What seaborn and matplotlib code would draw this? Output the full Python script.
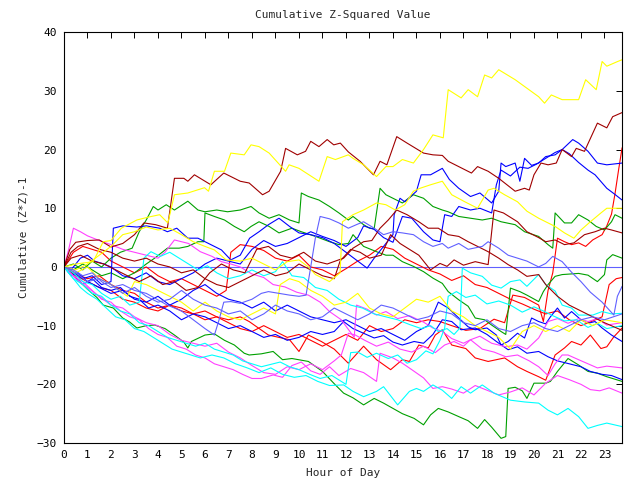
import pandas as pd
import matplotlib
matplotlib.use("Agg")
import matplotlib.pyplot as plt
import seaborn as sns

# cumulative (Z*Z)-1 walks, (hour, value)
yellow_1 = [(0, 0), (0.5, 0.5), (1.24, 0.9), (1.67, 4.3), (2.0, 4.5), (2.44, 6.6), (3.1, 8), (3.6, 8.5),
            (4.07, 8.9), (4.42, 7.5), (4.7, 12.3), (5.27, 12.6), (5.98, 13.5), (6.15, 12.9), (6.4, 16.3),
            (6.83, 16.3), (7.1, 19.4), (7.67, 19.1), (7.96, 20.8), (8.3, 20.5), (8.73, 19.4), (9.43, 16.3),
            (9.58, 17.4), (10.0, 16.8), (10.85, 14.6), (11.2, 18.8), (11.55, 18.3), (12.1, 19.1), (12.3, 18.5),
            (12.75, 17.4), (13.3, 15.4), (13.7, 17.1), (14.0, 17.1), (14.4, 18.3), (14.87, 17.7), (15.3, 20),
            (15.7, 22.5), (16.14, 22), (16.35, 30.2), (16.9, 28.8), (17.2, 30.2), (17.6, 29), (17.9, 32.7),
            (18.2, 32.2), (18.5, 33.6), (19.2, 31.9), (20.2, 29), (20.45, 27.9), (20.74, 29.3), (21.2, 28.5),
            (21.9, 28.5), (22.2, 31.9), (22.65, 30.2), (22.9, 35), (23.1, 34.2), (23.56, 35), (23.75, 35.3)]
yellow_2 = [(0, 0), (0.5, -0.5), (1, 0.5), (1.5, 2), (2, 3.5), (2.5, 5.5), (3, 6), (3.5, 6.8), (4, 6.3),
            (4.5, 6.6), (5, 5.5), (5.5, 4.3), (6, 3.5), (6.4, 2.9), (6.9, 1.2), (7.5, 1), (8, 1.5), (8.5, 0.5),
            (9, -0.5), (9.5, 0.9), (10, 1.2), (10.4, 0), (10.7, -1.3), (11.3, -2.5), (11.75, -1), (11.85, 7.7),
            (12.3, 8.9), (12.75, 9.7), (13.3, 10.9), (13.7, 10.6), (14.1, 9.7), (14.5, 10.6), (14.87, 12.9),
            (15.15, 13.4), (15.6, 14), (16.1, 14.6), (16.5, 12.3), (17.06, 11.1), (17.6, 10), (18.05, 13.1),
            (18.3, 13.4), (18.75, 12.3), (19.3, 11.1), (19.7, 9.5), (20.2, 8.3), (20.5, 7.7), (20.9, 6.9),
            (21.3, 5.8), (21.7, 4.9), (22.0, 6.3), (22.4, 7.7), (22.85, 9.2), (23.1, 10), (23.75, 10)]
yellow_3 = [(0, 0), (0.5, -1), (1, 0), (1.5, -2), (2, -3), (2.7, -5), (3, -2.5), (3.5, -3), (4, -4),
            (4.5, -5), (5, -6), (5.5, -7.5), (6, -6), (6.5, -7.5), (7, -8.5), (7.5, -9), (8, -8), (8.5, -7),
            (9, -8), (9.2, -3), (9.6, -2), (10, -2.5), (10.5, -4), (11, -5), (11.5, -6.5), (12, -6),
            (12.5, -4.5), (13, -7), (13.5, -8), (14, -8.5), (14.5, -7), (15, -5.5), (15.5, -6), (16, -5),
            (16.5, -7.5), (17, -8.5), (17.5, -10), (18, -11), (18.5, -12), (19, -14), (19.5, -11), (20, -10),
            (20.5, -11), (21, -10), (21.5, -11), (22, -9), (22.5, -10), (23, -9), (23.75, -9.5)]

darkred_1 = [(0, 0), (0.25, 3), (0.5, 4.2), (1, 4.5), (1.5, 4.6), (2, 3.4), (2.5, 4), (3, 5.5), (3.4, 7.5),
             (3.9, 7.2), (4.4, 6.6), (4.7, 15.1), (5.1, 15.1), (5.27, 14.6), (5.55, 15.7), (6.25, 14), (6.8, 16),
             (7.25, 15.1), (7.5, 14.6), (7.88, 14.3), (8.45, 12.3), (8.73, 12.9), (9.22, 16.3), (9.43, 20.2),
             (9.93, 19.1), (10.28, 19.7), (10.5, 21.4), (10.85, 20.5), (11.2, 21.7), (11.48, 20.8),
             (11.76, 21.1), (12.1, 19.6), (12.6, 18), (13.17, 15.7), (13.45, 18), (13.74, 17.4), (14.16, 22.2),
             (14.6, 21.1), (15.3, 19.4), (15.7, 19.1), (16.1, 19), (16.35, 18), (17.34, 16), (17.6, 17.1),
             (18.05, 16.3), (18.5, 15.1), (19.2, 12.9), (19.6, 13.4), (19.8, 13.1), (20.0, 15.7), (20.3, 17.7),
             (20.6, 17.4), (20.95, 17.7), (21.2, 20), (21.6, 18.8), (21.8, 20.2), (22.15, 19.7), (22.7, 24.5),
             (23.1, 23.7), (23.35, 25.6), (23.75, 26.3)]
darkred_2 = [(0, 0), (0.3, 2.5), (0.6, 3.5), (1, 4), (1.5, 3), (2, 2.5), (2.5, 1.5), (3, 1), (3.5, 1.5),
             (4, 0.5), (4.5, 0), (5, -1), (5.5, -0.5), (6, -2), (6.5, -3), (7, -3.5), (7.5, -2.5), (8, -1.5),
             (8.5, -0.5), (9, -1.5), (9.5, -1), (10, 0.5), (10.5, -0.5), (11, -1.5), (11.5, -2), (11.75, 1),
             (12.2, 3), (12.6, 2.5), (13, 1.5), (13.5, 2), (13.9, 5.5), (14.3, 4), (14.7, 3), (15.1, 2),
             (15.6, -0.5), (16.0, 0.6), (16.3, 0.1), (16.6, 1.2), (17, 0.3), (17.5, 0.9), (18.05, 0.4),
             (18.3, 9.7), (18.7, 9.2), (19.3, 7.7), (19.7, 6), (20.2, 5), (20.5, 4.3), (20.9, 4.6), (21.3, 3.8),
             (21.7, 4.1), (22.15, 5.5), (22.6, 6), (23.0, 6.6), (23.3, 6.3), (23.75, 5.8)]
darkred_3 = [(0, 0), (0.3, 1.5), (0.7, 2), (1.2, 1), (1.7, 0.5), (2.2, -0.5), (2.7, -1.5), (3.2, -2.5),
             (3.7, -1.5), (4.2, -3), (4.7, -2.5), (5.2, -4), (5.7, -3.5), (6.2, -1), (6.7, 0.5), (7.2, -0.5),
             (7.7, -1), (8.2, 3), (8.7, 3.5), (9.2, 2), (9.7, 1.5), (10.2, 2.5), (10.7, 1), (11.2, 0.5),
             (11.9, 1.5), (12.3, 3.2), (12.75, 4.3), (13.1, 4.5), (13.45, 6.6), (13.8, 8), (14.16, 9.7),
             (14.6, 8.9), (15.1, 7.7), (15.5, 6.6), (15.93, 6.6), (16.35, 5.5), (16.8, 5.2), (17.2, 4.3),
             (17.6, 3.5), (18.05, 2.6), (18.5, 1.5), (18.9, 0.4), (19.3, -0.5), (19.7, -1.6), (20.2, -1.3),
             (20.5, -3), (21, -5), (21.5, -6.5), (22, -7.5), (22.5, -8.5), (23, -9.5), (23.75, -10.8)]

red_1 = [(0, 0), (0.5, -1.2), (1, -2), (1.5, -1.5), (2, -3), (2.5, -4), (3, -4.5), (3.5, -6), (4, -7),
         (4.5, -6.5), (5, -7.5), (5.5, -8), (6, -9), (6.5, -8.5), (7, -9.5), (7.5, -10.5), (8, -11), (8.5, -10),
         (9, -11), (9.5, -12), (10, -11.5), (10.5, -12.5), (11, -13.5), (11.5, -12.5), (12, -11.5),
         (12.5, -12.5), (13, -10), (13.5, -11), (14, -10.5), (14.5, -9), (15, -9.5), (15.5, -9), (16, -9.3),
         (16.5, -10), (17.1, -10.8), (17.7, -10.5), (18.3, -8.9), (18.75, -9.5), (19.1, -4.8), (19.6, -5.2),
         (20.2, -6.5), (20.4, -9.3), (20.6, -4), (20.8, -1), (21, 4.9), (21.3, 4.3), (21.6, 3.8), (21.9, 4.1),
         (22.2, 3.5), (22.5, 4.6), (22.9, 5.5), (23.1, 7), (23.3, 9), (23.45, 12.5), (23.6, 16.5), (23.75, 20.3)]
red_2 = [(0, 0), (0.4, 2.5), (0.8, 3.5), (1.2, 3), (1.6, 2.5), (2, 1), (2.5, 0), (3, -1), (3.5, 0), (4, -1.5),
         (4.5, -2.5), (5, -2), (5.5, -3), (6, -4), (6.5, -5), (6.9, -4), (7.1, 2.5), (7.5, 3.8), (8, 3.5),
         (8.5, 2.8), (9, 1.5), (9.5, 1), (10, 2), (10.5, 0), (11, -0.5), (11.5, -1.5), (12, -0.3), (12.5, 1),
         (13, 2), (13.5, 3.5), (14, 3), (14.5, 1.5), (15, 0.5), (15.5, -0.5), (16, -1.2), (16.5, -2.3),
         (17, -1.5), (17.5, -3), (18, -3.5), (18.5, -4.5), (19, -5.5), (19.5, -6.3), (20, -7.2), (20.5, -8),
         (21, -7.5), (21.5, -9), (22, -10), (22.5, -9.2), (22.9, -8.5), (23.2, -3), (23.5, -2), (23.75, -1.8)]
red_3 = [(0, 0), (0.5, -1.5), (1, -2.5), (1.5, -3.5), (2, -4), (2.5, -5.5), (3, -6), (3.5, -7), (4, -7.5),
         (4.5, -6.5), (5, -7), (5.5, -8), (6, -7.5), (6.5, -8.5), (7, -9), (7.5, -8.5), (7.88, -9.3),
         (8.7, -11.6), (9.6, -12.4), (10, -14.4), (10.4, -11.6), (10.95, -12.7), (11.5, -14), (12.1, -16.4),
         (12.75, -13.5), (13.3, -15.8), (13.9, -17.5), (14.4, -15.8), (14.7, -16.1), (15.1, -13.3),
         (15.5, -13.8), (15.8, -11.6), (16.1, -10.7), (16.5, -13.3), (17.1, -13.9), (17.5, -15.5),
         (18.05, -16.1), (18.75, -15.5), (19.3, -17), (19.7, -17.8), (20.2, -18.7), (20.5, -19.3), (20.9, -15),
         (21.3, -13.8), (21.6, -12.7), (22.0, -13.3), (22.4, -11.6), (22.85, -13.9), (23.1, -13.6),
         (23.4, -11.9), (23.75, -10.4)]

blue_1 = [(0, 0), (0.4, -1), (0.8, -2), (1.2, -1.5), (1.6, -3), (2.0, -2.5), (2.1, 6.6), (2.5, 7), (3.1, 6.8),
          (3.5, 7), (4.07, 6.6), (4.4, 6), (4.8, 6.6), (5.27, 4.9), (5.7, 4.9), (6.1, 4.1), (6.7, 2.9),
          (7.1, 1.2), (7.5, 2), (7.9, 4.9), (8.3, 6), (8.7, 7.2), (9.15, 8.3), (9.6, 6.9), (10, 5.8),
          (10.5, 5.5), (11, 5), (11.5, 4), (12, 2.5), (12.5, 1), (12.9, -0.2), (13.2, 1.5), (13.5, 3),
          (13.8, 4.5), (14.0, 5.5), (14.05, 8.9), (14.3, 11.7), (14.5, 11.1), (15.0, 12.9), (15.2, 15.7),
          (15.6, 15.7), (16.1, 16.8), (16.4, 14.9), (16.8, 13.4), (17.3, 12), (17.7, 12.6), (18.2, 10.9),
          (18.5, 12.9), (18.6, 17.7), (18.8, 17.1), (19.2, 17.7), (19.4, 14.6), (19.6, 18.5), (19.9, 17.3),
          (20.2, 17.7), (20.5, 18.8), (20.9, 19.1), (21.2, 20), (21.65, 21.7), (21.9, 21.1), (22.3, 19.7),
          (22.7, 17.7), (23.1, 17.4), (23.75, 17.7)]
blue_2 = [(0, 0), (0.3, -0.5), (0.7, 1.5), (1.0, 2), (1.3, 1), (1.7, 0.5), (2, 0), (2.5, -1.5), (3, -2),
          (3.5, -1), (4, -2.5), (4.5, -3), (5, -2), (5.5, -1), (6, 0.5), (6.5, 1.5), (7, 1), (7.5, 0.5), (8, 3),
          (8.5, 4.5), (9, 3.5), (9.5, 4), (10, 5), (10.5, 6), (11, 5.2), (11.5, 4.5), (12, 3.5), (12.5, 5),
          (12.75, 7), (13.2, 6.4), (13.6, 5), (14, 4.2), (14.4, 8.6), (14.8, 8.3), (15.3, 6), (15.7, 4.6),
          (16.0, 4.3), (16.2, 8.9), (16.5, 8.6), (16.8, 10.3), (17.3, 9.7), (17.7, 10), (18.2, 9.2), (18.4, 14),
          (18.6, 16.5), (19.0, 15.5), (19.4, 17), (19.75, 16.8), (20.1, 17.5), (20.5, 18.5), (20.9, 19.5),
          (21.2, 20), (21.5, 19.3), (21.9, 17.8), (22.3, 16.5), (22.6, 15.7), (23.1, 13.4), (23.4, 12.5),
          (23.75, 11.4)]
blue_3 = [(0, 0), (0.3, -1.5), (0.6, -1), (1, -2.5), (1.5, -3.5), (2, -4.5), (2.5, -4), (3, -5.5), (3.5, -6),
          (4, -5), (4.5, -6.5), (5, -5.5), (5.5, -4), (6, -3), (6.5, -4.5), (7, -5.5), (7.5, -6), (8, -7),
          (8.5, -6), (9, -7.5), (9.5, -6.5), (10, -7.5), (10.5, -8.5), (11, -9), (11.5, -9.5), (12, -9),
          (12.5, -10), (13, -11), (13.5, -10.5), (14, -11.5), (14.5, -12.5), (15, -11), (15.5, -10),
          (15.93, -6), (16.35, -7), (16.8, -8.7), (17.2, -10.2), (17.5, -10.7), (18, -10.4), (18.4, -11.6),
          (18.6, -13.3), (18.9, -12.7), (19.3, -11.3), (19.6, -12.1), (19.9, -8.7), (20.2, -9.3), (20.5, -9.7),
          (20.7, -8.5), (21, -7), (21.3, -8.7), (21.6, -7.6), (22, -9), (22.3, -9.6), (22.6, -9.3),
          (22.9, -10.4), (23.3, -11.6), (23.75, -12.7)]
blue_4 = [(0, 0), (0.4, -1.5), (0.8, -3), (1.2, -2), (1.6, -3.5), (2, -4), (2.4, -3.5), (2.8, -5), (3.2, -5.5),
          (3.6, -7), (4, -6.5), (4.5, -7.5), (5, -9), (5.5, -8), (6, -8.5), (6.5, -9.5), (7, -10.5), (7.5, -10),
          (8, -11), (8.5, -12), (9, -11.5), (9.5, -12.5), (10, -12), (10.5, -11), (11, -11.5), (11.5, -11),
          (11.9, -9.3), (12.3, -10.5), (12.75, -11.3), (13.2, -12.1), (13.6, -11.7), (14.0, -12.8),
          (14.4, -13.3), (14.9, -12.7), (15.3, -13), (15.7, -11.5), (16.1, -9), (16.5, -9.3), (16.9, -10.7),
          (17.5, -10.4), (18.0, -11.5), (18.4, -12.7), (18.9, -14.1), (19.3, -13.6), (19.7, -14.7),
          (20.2, -14.4), (20.6, -15.3), (21.0, -16.0), (21.5, -16.5), (22.0, -17), (22.4, -17.8),
          (22.9, -18.3), (23.3, -18.5), (23.75, -19.2)]

slate_1 = [(0, 0), (0.4, -0.5), (0.8, -1.5), (1.2, -1), (1.6, -2.5), (2, -3.5), (2.5, -3), (3, -4), (3.5, -4.5),
           (3.86, -5.3), (4.4, -6.5), (5, -7.5), (5.5, -9), (6, -10.5), (6.4, -11.6), (6.6, -9), (6.8, -6),
           (7.1, -5.9), (7.5, -6.2), (8, -5.5), (8.4, -4.5), (8.7, -4.2), (9.15, -4.5), (9.6, -4.8), (10.0, -5),
           (10.3, -4.8), (10.5, 0), (10.7, 5), (10.9, 8.6), (11.3, 8.2), (11.7, 7.5), (12.1, 6.6), (12.5, 7.3),
           (12.75, 7.7), (13.2, 6.6), (13.6, 5.5), (14.0, 6), (14.4, 5.8), (14.87, 5.5), (15.3, 4.3),
           (15.7, 3.5), (16.1, 4), (16.35, 3.2), (16.8, 4), (17.2, 3), (17.8, 3.5), (18.05, 4.3), (18.5, 3.2),
           (18.9, 2), (19.3, 1.5), (19.7, 1), (20.2, 0), (20.5, 0.6), (20.8, 1.8), (21.2, 0.9), (21.6, -0.9),
           (22.0, -2.5), (22.4, -4.3), (22.9, -6), (23.4, -8.2), (23.55, -5), (23.75, -3.3)]
slate_2 = [(0, 0), (0.5, -1), (1, -2.5), (1.5, -2), (2, -3), (2.5, -4.5), (3, -3.5), (3.5, -5), (4, -6),
           (4.5, -5.5), (5, -4), (5.5, -5.5), (6, -6.5), (6.5, -7), (7, -8), (7.5, -7.5), (8, -9), (8.5, -8),
           (9, -6.5), (9.5, -7.5), (10, -8), (10.5, -9), (11, -8.5), (11.5, -7), (12, -8), (12.5, -9), (13, -8),
           (13.5, -6.5), (14, -7), (14.5, -8), (15, -9), (15.5, -8.5), (16, -7.5), (16.5, -8), (17, -9.5),
           (17.5, -10), (18, -9), (18.5, -10.5), (19, -11), (19.5, -10), (20, -9.5), (20.5, -10.5), (21, -11),
           (21.5, -10), (22, -9), (22.5, -8.5), (23, -9), (23.75, -8)]

green_1 = [(0, 0), (0.4, 0.5), (0.8, -0.5), (1.2, 1), (1.6, 0), (2.0, 1.5), (2.4, 2.5), (2.9, 3.2), (3.2, 6),
           (3.5, 8), (3.8, 10.3), (4.0, 9.7), (4.35, 10.6), (4.7, 9.7), (5.27, 11.2), (5.7, 9.7), (6.0, 9.4),
           (6.5, 9.7), (6.96, 9.4), (7.5, 9.7), (7.96, 10.3), (8.3, 9.2), (8.73, 8.3), (9.15, 8.9), (9.6, 8),
           (10.0, 7.5), (10.1, 12.6), (10.4, 12), (10.85, 11.4), (11.3, 10.3), (11.7, 9.2), (12.1, 8),
           (12.3, 8.6), (12.75, 7.2), (13.0, 6.6), (13.2, 6.5), (13.45, 13.4), (13.7, 12.3), (14.0, 11.7),
           (14.4, 10.9), (14.87, 12.3), (15.3, 11.7), (15.7, 10.3), (16.1, 9.7), (16.35, 9.4), (16.8, 8.6),
           (17.3, 8.3), (17.8, 8), (18.2, 8.3), (18.6, 7.7), (19.2, 7.2), (19.6, 6), (20.2, 5.2), (20.6, 3.8),
           (20.8, 3.2), (20.9, 9.2), (21.3, 7.5), (21.6, 7.5), (21.9, 8.9), (22.3, 8), (22.65, 6.9), (23.0, 6.3),
           (23.3, 7.7), (23.45, 8.9), (23.75, 8.3)]
green_2 = [(0, 0), (0.4, -0.5), (0.8, 0.5), (1.2, -0.5), (1.6, -1.5), (2, -1), (2.5, -2), (3, -1), (3.5, 0.5),
           (3.86, 1.5), (4.4, 3.2), (4.9, 3.2), (5.27, 3.5), (5.7, 4.3), (5.95, 4.3), (6.0, 9.2), (6.4, 8.6),
           (6.83, 8), (7.25, 6.9), (7.67, 6), (7.96, 6.9), (8.3, 7.7), (8.73, 6.9), (9.15, 5.8), (9.7, 6.6),
           (10.1, 6), (10.7, 5.2), (11.3, 4.3), (11.7, 3.8), (12.1, 4), (12.3, 5.5), (12.75, 3.5), (13.3, 2.6),
           (13.7, 2), (14.0, 2), (14.4, 0.9), (14.87, 0.1), (15.3, -0.8), (15.7, -1.9), (16.1, -2.8),
           (16.35, -4.2), (16.8, -5.6), (17.2, -6.7), (17.5, -8.7), (17.9, -9), (18.2, -9.9), (18.6, -11),
           (18.8, -11.5), (19.0, -3.6), (19.4, -4.2), (19.7, -4.8), (20.2, -5.9), (20.4, -4.2), (20.6, -3),
           (20.9, -1.6), (21.2, -1.3), (21.9, -1.1), (22.3, -1.4), (22.7, -2.5), (23.0, -1.3), (23.1, 1.2),
           (23.35, 2.1), (23.75, 1.5)]
green_3 = [(0, 0), (0.3, -1), (0.67, -2.5), (1.0, -3.8), (1.4, -5.2), (1.67, -6.5), (2.1, -7), (2.5, -8.7),
           (2.8, -9.4), (3.1, -10.4), (3.5, -10), (3.86, -9.9), (4.3, -10.5), (4.7, -11.6), (5.1, -12.8),
           (5.27, -13.8), (5.42, -12.7), (6.0, -11.6), (6.4, -11.4), (6.83, -12.5), (7.25, -13.3),
           (7.67, -14.7), (7.88, -15), (8.4, -14.8), (8.9, -14.4), (9.3, -15.8), (9.7, -15.6), (10.4, -16.1),
           (11.0, -17.8), (11.55, -20.1), (11.9, -21.5), (12.3, -22.3), (12.75, -23.5), (13.2, -22.4),
           (13.6, -23.2), (14.0, -24.1), (14.4, -25), (14.9, -25.8), (15.3, -26.9), (15.6, -25.2),
           (15.93, -24.1), (16.35, -24.7), (16.8, -25.5), (17.2, -26.2), (17.6, -27.5), (17.9, -26),
           (18.2, -27.3), (18.6, -29.2), (18.8, -28.9), (18.9, -20.7), (19.2, -20.5), (19.5, -21.1),
           (19.7, -22.4), (20.0, -19.8), (20.5, -19.8), (20.7, -19.5), (21.0, -17.8), (21.45, -15.6),
           (21.9, -16.7), (22.3, -17.8), (22.7, -18.1), (23.1, -18.7), (23.75, -19.5)]

cyan_1 = [(0, 0), (0.3, -1.5), (0.7, -3.5), (1, -4.5), (1.4, -5.5), (1.8, -7), (2.2, -8.5), (2.6, -9), (3, -10.5),
          (3.4, -11), (3.8, -12), (4.2, -13), (4.6, -14), (5, -14.5), (5.4, -15), (5.8, -15.5), (6.3, -15),
          (6.8, -15.5), (7.3, -16.5), (7.8, -17.2), (8.3, -18), (8.8, -17.2), (9.3, -18.3), (9.8, -18.8),
          (10.3, -18.5), (10.8, -19.5), (11.3, -20.2), (11.9, -20.1), (12.3, -21.2), (12.75, -22.1),
          (13.3, -21.2), (13.6, -20.4), (14.2, -23.5), (14.7, -21.2), (15.0, -20.7), (15.3, -21.2),
          (15.7, -20.1), (16.1, -21), (16.5, -22.4), (16.9, -20.4), (17.3, -21.5), (17.8, -20.1), (18.3, -21.5),
          (19.0, -22.7), (19.6, -23), (20.2, -23.2), (20.6, -24.4), (21.0, -25.2), (21.45, -24.1),
          (21.9, -25.5), (22.3, -27.5), (22.7, -27), (23.1, -26.6), (23.75, -27.2)]
cyan_2 = [(0, 0), (0.4, -1), (0.8, -2.5), (1.2, -3), (1.6, -4.5), (2, -5.5), (2.4, -5), (2.8, -6.5), (3.2, -6),
          (3.4, 1.5), (3.7, 2.6), (4.1, 1.8), (4.5, 2.5), (4.9, 1.5), (5.3, 0.5), (5.7, -0.5), (6.1, 0.2),
          (6.5, -1), (7, -2), (7.5, -1.5), (8, -0.5), (8.5, -1.5), (9, -0.8), (9.3, 0.9), (9.7, -1.5),
          (10.2, -1.8), (10.7, -3.5), (11.2, -4), (11.7, -5.5), (12.2, -6.5), (12.7, -7), (13.2, -8),
          (13.7, -8.5), (14.2, -9), (14.7, -9.8), (15.2, -10.5), (15.6, -10), (15.93, -11), (16.3, -10.5),
          (16.6, -11.5), (16.85, -10.4), (16.95, -0.2), (17.3, -1), (17.8, -1.6), (18.2, -3.1), (18.6, -3.6),
          (19.0, -2.5), (19.4, -2.2), (19.7, -3.3), (20.2, -1.3), (20.5, -3), (20.9, -4.1), (21.2, -6.5),
          (21.6, -7), (21.9, -8.2), (22.5, -8.2), (22.9, -7.6), (23.3, -8), (23.75, -7.9)]
cyan_3 = [(0, 0), (0.4, -2), (0.8, -3), (1.2, -4.5), (1.6, -5), (2, -6.5), (2.4, -7.5), (2.8, -8), (3.2, -9.5),
          (3.6, -10), (4, -11), (4.4, -12), (4.8, -12.5), (5.2, -13), (5.6, -13.5), (6, -13), (6.4, -14),
          (6.8, -14.5), (7.2, -15), (7.6, -16), (8, -16.5), (8.4, -17), (8.8, -16.6), (9.2, -16.2), (9.6, -17),
          (10, -17.5), (10.4, -18.2), (10.9, -19), (11.4, -18.5), (11.8, -19.5), (12.0, -20), (12.2, -14.6),
          (12.5, -14.5), (12.9, -15.4), (13.3, -14.7), (13.8, -15.6), (14.2, -15), (14.6, -16.4), (15.0, -15.8),
          (15.4, -14.3), (15.7, -14.8), (16.0, -12.5), (16.2, -10.4), (16.35, -5), (16.7, -4.2), (17.1, -5.2),
          (17.5, -4.8), (18.0, -6.3), (18.5, -5.8), (19.0, -6.5), (19.5, -7.7), (20.0, -6.8), (20.4, -7.5),
          (20.8, -8.3), (21.3, -9.2), (21.8, -9), (22.3, -10.3), (22.7, -9.6), (23.1, -10.5), (23.75, -10)]

magenta_1 = [(0, 0), (0.2, 3), (0.4, 6.6), (0.7, 6), (1, 5.3), (1.5, 4.5), (2, 3.8), (2.5, 3), (3, 2.5),
             (3.5, 2), (4, 1.5), (4.3, 2.5), (4.7, 4.6), (5.3, 4), (5.8, 2.6), (6.3, 1.8), (6.7, 0.9), (7.1, 0.5),
             (7.5, 0), (8, -1.2), (8.5, -1.8), (8.9, -3), (9.4, -3.4), (9.9, -4.3), (10.4, -4.8), (10.9, -6),
             (11.3, -7.6), (11.8, -9), (12.35, -12), (12.45, -6.5), (12.9, -7.2), (13.3, -8.2), (13.7, -7.6),
             (14.2, -8.8), (14.7, -8.3), (15.3, -9.4), (15.7, -10.4), (16.1, -11), (16.5, -12.2), (17, -13),
             (17.3, -12.4), (17.7, -11.8), (18.2, -13), (18.8, -13.6), (19.3, -13.3), (19.7, -14), (20.2, -12.1),
             (20.6, -9.3), (21, -8.8), (21.45, -9.6), (21.9, -8.8), (22.3, -9.3), (22.7, -8.8), (23.1, -9.9),
             (23.75, -9.5)]
magenta_2 = [(0, 0), (0.5, -2), (1, -3.5), (1.5, -5), (2, -6.5), (2.5, -7), (3, -8.5), (3.5, -9.5), (4, -10),
             (4.5, -11.5), (5, -12.5), (5.5, -13), (6, -13.5), (6.5, -13), (7, -14.5), (7.5, -15.5), (8, -16.8),
             (8.5, -18), (9, -18.3), (9.5, -17), (10, -17.5), (10.5, -16.5), (11, -17.5), (11.5, -16), (11.8, -15),
             (12.1, -11.3), (12.4, -11.6), (12.8, -12.5), (13.3, -13.5), (13.8, -12.8), (14.3, -14), (14.8, -14.5),
             (15.3, -13.5), (15.8, -14.6), (16.2, -13.3), (16.6, -12.7), (17, -13.5), (17.3, -12.4), (17.8, -14),
             (18.3, -14.5), (18.8, -15.3), (19.3, -15), (19.8, -16), (20.2, -17), (20.6, -18.5), (20.9, -16.5),
             (21.2, -15), (21.45, -15), (21.9, -15.8), (22.3, -16.5), (22.7, -17.2), (23.1, -16.9), (23.75, -17.2)]
magenta_3 = [(0, 0), (0.4, -1.5), (0.8, -2.5), (1.2, -4), (1.6, -5.5), (2, -6), (2.4, -7.5), (2.8, -8.5),
             (3.2, -9), (3.6, -10.5), (4, -11.5), (4.4, -12), (4.8, -13.5), (5.2, -14), (5.6, -15), (6, -15.5),
             (6.4, -16.5), (6.8, -17), (7.2, -17.5), (7.6, -18.3), (8, -19), (8.4, -19), (8.9, -18.4),
             (9.3, -18.8), (9.7, -16.8), (10.1, -16.2), (10.5, -17.7), (10.9, -18.3), (11.3, -17), (11.7, -18.5),
             (12.2, -17.3), (12.75, -18), (13.3, -19.5), (13.45, -14.7), (14, -15.5), (14.4, -16.4),
             (14.8, -17.5), (15.3, -18.9), (15.7, -20.7), (16.1, -20.4), (16.5, -20.8), (17, -21.5),
             (17.5, -20.2), (18, -21), (18.5, -21.8), (19, -21.3), (19.5, -20.6), (20, -21.8), (20.5, -19.8),
             (21, -18.5), (21.5, -19.2), (22, -20), (22.4, -20.9), (22.8, -21.1), (23.2, -20.6), (23.75, -21.5)]

walks = {
    "red_1": red_1, "red_2": red_2, "red_3": red_3,
    "green_1": green_1, "green_2": green_2, "green_3": green_3,
    "blue_1": blue_1, "blue_2": blue_2, "blue_3": blue_3, "blue_4": blue_4,
    "magenta_1": magenta_1, "magenta_2": magenta_2, "magenta_3": magenta_3,
    "cyan_1": cyan_1, "cyan_2": cyan_2, "cyan_3": cyan_3,
    "darkred_1": darkred_1, "darkred_2": darkred_2, "darkred_3": darkred_3,
    "yellow_1": yellow_1, "yellow_2": yellow_2, "yellow_3": yellow_3,
    "slate_1": slate_1, "slate_2": slate_2,
}
colours = {"red": "#ff0000", "green": "#00a000", "blue": "#0000ff", "magenta": "#ff40ff",
           "cyan": "#00ffff", "darkred": "#a00000", "yellow": "#ffff00", "slate": "#6060ff"}

rows = [(name, h, v) for name, pts in walks.items() for h, v in pts]
df = pd.DataFrame(rows, columns=["walk", "hour", "value"])
palette = {name: colours[name.rsplit("_", 1)[0]] for name in walks}

sns.set_style("white")
plt.rcParams["font.family"] = ["DejaVu Sans Mono"]
plt.rcParams["font.size"] = 8

fig, ax = plt.subplots(figsize=(6.4, 4.8), dpi=100)
fig.subplots_adjust(left=0.1, right=0.972, top=0.933, bottom=0.077)

ax.axhline(0, color="#6060ff", lw=0.8, zorder=1)
sns.lineplot(data=df, x="hour", y="value", hue="walk", palette=palette, estimator=None,
             sort=False, legend=False, linewidth=0.8, ax=ax, zorder=2)

ax.set_xlim(0, 23.75)
ax.set_ylim(-30, 40)
ax.set_xticks(range(0, 24))
ax.set_yticks(range(-30, 41, 10))
ax.tick_params(direction="in", length=4, width=0.7, top=True, right=True, colors="black", pad=5)
for s in ax.spines.values():
    s.set_color("black")
    s.set_linewidth(0.8)

ax.set_title("Cumulative Z-Squared Value", fontsize=8, pad=10)
ax.set_xlabel("Hour of Day", fontsize=8, labelpad=6)
ax.set_ylabel("Cumulative (Z*Z)-1", fontsize=8, labelpad=6)

fig.savefig("out.png", dpi=100)
